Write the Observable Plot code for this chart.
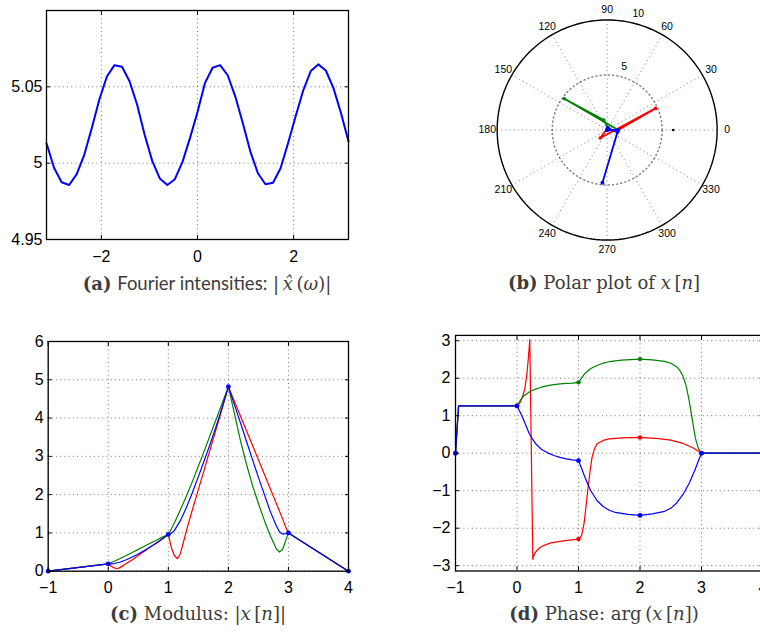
<!DOCTYPE html>
<html><head><meta charset="utf-8">
<script src="https://cdn.jsdelivr.net/npm/d3@7"></script>
<script src="https://cdn.jsdelivr.net/npm/@observablehq/plot@0.6"></script>
<style>
html,body{margin:0;padding:0;background:#fff;}
body{width:760px;height:635px;position:relative;overflow:hidden;}
.panel{position:absolute;}
.panel svg{overflow:visible;max-width:none !important;}
.cap{position:absolute;transform:translate(-50%,-50%);white-space:nowrap;color:#3c3c3c;font-family:"DejaVu Serif","Liberation Serif",serif;font-size:18px;}
.cap b{font-weight:bold;}
.cap i{font-style:italic;}
.sans{font-family:Lato,"Open Sans",sans-serif;font-size:18.5px;}
</style></head><body>
<div id="pa" class="panel" style="left:0;top:0;width:360px"></div>
<div id="pb" class="panel" style="left:440px;top:0;width:320px"></div>
<div id="pc" class="panel" style="left:0;top:320px;width:360px"></div>
<div id="pd" class="panel" style="left:400px;top:320px;width:370px"></div>
<div class="cap" style="left:207px;top:283px"><b>(a)</b> <span class="sans">Fourier intensities:</span> |&thinsp;<i>x&#770;</i>&thinsp;(<i>ω</i>)|</div>
<div class="cap" style="left:604px;top:282px"><b>(b)</b> Polar plot of <i>x</i>&thinsp;[<i>n</i>]</div>
<div class="cap" style="left:198px;top:613px"><b>(c)</b> Modulus: |<i>x</i>&thinsp;[<i>n</i>]|</div>
<div class="cap" style="left:604px;top:613px"><b>(d)</b> Phase: arg&thinsp;(<i>x</i>&thinsp;[<i>n</i>])</div>
<script>
// ---------- (a) Fourier intensities ----------
const omega = [-3.142,-2.985,-2.827,-2.670,-2.513,-2.356,-2.199,-2.042,-1.885,-1.728,-1.571,-1.414,-1.257,-1.100,-0.942,-0.785,-0.628,-0.471,-0.314,-0.157,0,0.157,0.314,0.471,0.628,0.785,0.942,1.100,1.257,1.414,1.571,1.728,1.885,2.042,2.199,2.356,2.513,2.670,2.827,2.985,3.142];
const fourierMag = [5.013,4.997,4.9875,4.9857,4.9928,5.0055,5.023,5.0417,5.0568,5.0642,5.0632,5.0537,5.0384,5.0186,5.0015,4.990,4.9857,4.9895,5.0007,5.0164,5.0335,5.0526,5.0625,5.0642,5.0576,5.0438,5.0263,5.0076,4.9934,4.9862,4.9872,4.9967,5.0132,5.0307,5.0476,5.0603,5.0647,5.0607,5.0493,5.0329,5.0142];
const aXTicks = [-2, 0, 2];
const aYTicks = [4.95, 5, 5.05];

// ---------- samples x[n] ----------
const nIdx = [-1, 0, 1, 2, 3, 4];
const modulus = [0, 0.19, 0.96, 4.82, 1.0, 0];
const phaseRed = [0, 1.26, -2.29, 0.42, 0, 0];
const phaseGreen = [0, 1.26, 1.89, 2.51, 0, 0];
const phaseBlue = [0, 1.26, -0.2, -1.66, 0, 0];

// ---------- (b) polar ----------
const polarAngles = [0,30,60,90,120,150,180,210,240,270,300,330];
const polarRings = [5, 10];
const polarMarker = [{r: 6, p: 0}];

// ---------- (c) modulus curves ----------
const cRedX = [-1,0,0.05,0.1,0.15,0.2,0.3,0.4,0.5,0.6,0.7,0.8,0.9,1,1.05,1.1,1.15,1.2,1.25,1.3,1.4,1.5,1.6,1.7,1.8,1.9,2,2.5,2.9,2.95,3,4];
const cRedY = [0,0.19,0.13,0.085,0.065,0.1,0.2,0.3,0.41,0.52,0.63,0.74,0.85,0.96,0.62,0.41,0.33,0.45,0.75,1.05,1.6,2.13,2.66,3.2,3.73,4.27,4.82,2.91,1.38,1.17,1.0,0];
const cGreenX = [-1,0,0.1,0.2,0.3,0.4,0.5,0.6,0.7,0.8,0.9,1,1.05,1.1,1.2,1.3,1.4,1.5,1.6,1.7,1.8,1.9,2,2.1,2.2,2.3,2.4,2.5,2.6,2.7,2.8,2.85,2.9,2.95,3,4];
const cGreenY = [0,0.19,0.26,0.33,0.41,0.49,0.57,0.65,0.73,0.81,0.89,0.96,1.1,1.26,1.6,1.96,2.34,2.74,3.15,3.57,3.98,4.4,4.82,4.12,3.42,2.8,2.25,1.77,1.32,0.92,0.58,0.5,0.56,0.78,1.0,0];
const cBlueX = [-1,0,0.1,0.2,0.3,0.4,0.5,0.6,0.7,0.8,0.9,1,1.05,1.1,1.2,1.3,1.4,1.5,1.6,1.7,1.8,1.9,2,2.1,2.2,2.3,2.4,2.5,2.6,2.7,2.8,2.85,2.9,2.95,3,4];
const cBlueY = [0,0.19,0.2,0.24,0.3,0.37,0.45,0.54,0.63,0.73,0.84,0.96,0.99,1.06,1.32,1.66,2.05,2.47,2.9,3.34,3.8,4.3,4.82,4.35,3.88,3.4,2.92,2.45,2.0,1.55,1.18,1.03,0.97,0.98,1.0,0];
const cXTicks = [-1,0,1,2,3,4];
const cYTicks = [0,1,2,3,4,5,6];

// ---------- (d) phase curves ----------
const dRedX = [-1,-0.95,0,0.05,0.1,0.13,0.16,0.18,0.2,0.208,0.257,0.28,0.32,0.38,0.45,0.55,0.7,0.85,1,1.05,1.09,1.12,1.15,1.19,1.22,1.26,1.3,1.4,1.5,1.7,2,2.3,2.5,2.7,2.85,2.95,3,4];
const dRedY = [0,1.26,1.26,1.35,1.55,1.75,2.1,2.45,2.85,3.03,-2.83,-2.7,-2.6,-2.51,-2.45,-2.39,-2.35,-2.32,-2.29,-2.2,-1.88,-1.45,-1.0,-0.45,-0.11,0.12,0.25,0.34,0.38,0.41,0.42,0.39,0.35,0.26,0.15,0.05,0,0];
const dGreenX = [-1,-0.95,0,0.05,0.1,0.2,0.3,0.4,0.5,0.6,0.7,0.8,0.9,1,1.05,1.1,1.2,1.3,1.4,1.5,1.7,2,2.2,2.4,2.5,2.6,2.65,2.7,2.75,2.8,2.85,2.9,2.95,3,4];
const dGreenY = [0,1.26,1.26,1.4,1.51,1.63,1.71,1.76,1.8,1.83,1.85,1.86,1.87,1.89,2.0,2.12,2.26,2.34,2.4,2.44,2.48,2.51,2.49,2.45,2.4,2.3,2.2,2.05,1.8,1.4,0.9,0.4,0.12,0,0];
const dBlueX = [-1,-0.95,0,0.05,0.1,0.15,0.2,0.25,0.3,0.4,0.5,0.6,0.7,0.8,0.9,1,1.05,1.1,1.15,1.2,1.3,1.4,1.5,1.6,1.8,2,2.2,2.4,2.5,2.6,2.7,2.8,2.9,2.95,3,4];
const dBlueY = [0,1.26,1.26,1.1,0.92,0.72,0.52,0.38,0.26,0.1,0.01,-0.06,-0.11,-0.15,-0.18,-0.2,-0.4,-0.62,-0.82,-1.0,-1.26,-1.42,-1.52,-1.58,-1.63,-1.66,-1.62,-1.55,-1.47,-1.32,-1.1,-0.8,-0.42,-0.2,0,0];
const dXTicks = [-1,0,1,2,3,4];
const dYTicks = [-3,-2,-1,0,1,2,3];

const RED = "#ff0000", GREEN = "#008000", BLUE = "#0000ff";
const TICKFONT = "'Liberation Sans', Arial, Helvetica, sans-serif";
const zip = (xs, ys) => xs.map((x, i) => ({x, y: ys[i]}));
const fmt = d3.format("~g");

function grid(xt, yt) {
  const g = {stroke: "#000", strokeOpacity: 0.55, strokeDasharray: "1,3.2", strokeWidth: 1};
  return [Plot.gridX(xt, g), Plot.gridY(yt, g)];
}
function boxAxes(xt, yt, padX, padY) {
  return [
    Plot.axisX(xt, {anchor: "bottom", tickSize: 0, tickPadding: padX, tickFormat: fmt, label: null}),
    Plot.axisY(yt, {anchor: "left", tickSize: 0, tickPadding: padY, tickFormat: fmt, label: null}),
    Plot.axisX(xt, {anchor: "bottom", tickSize: 4, dy: -4, tickFormat: () => "", label: null}),
    Plot.axisX(xt, {anchor: "top", tickSize: 4, dy: 4, tickFormat: () => "", label: null}),
    Plot.axisY(yt, {anchor: "left", tickSize: 4, dx: 4, tickFormat: () => "", label: null}),
    Plot.axisY(yt, {anchor: "right", tickSize: 4, dx: -4, tickFormat: () => "", label: null})
  ];
}
const baseStyle = {fontFamily: TICKFONT, fontSize: "16px", color: "#000", background: "transparent", overflow: "visible", maxWidth: "none"};

// (a)
document.getElementById("pa").append(Plot.plot({
  width: 360, height: 270,
  marginLeft: 46, marginRight: 12, marginTop: 10, marginBottom: 31,
  x: {domain: [-Math.PI, Math.PI], label: null},
  y: {domain: [4.95, 5.1], label: null},
  style: baseStyle,
  marks: [
    ...grid(aXTicks, aYTicks),
    Plot.line(zip(omega, fourierMag), {x: "x", y: "y", stroke: BLUE, strokeWidth: 2}),
    Plot.frame({stroke: "#000", strokeWidth: 1.3}),
    ...boxAxes(aXTicks, aYTicks, 11.5, 4)
  ]
}));

// (b) polar
const polarPts = (phases) => nIdx.map((n, i) => ({r: modulus[i], p: phases[i]}));
const px = d => d.r * Math.cos(d.p), py = d => d.r * Math.sin(d.p);
const ringPts = (r) => d3.range(0, 361, 2).map(a => ({r, p: a * Math.PI / 180}));
const labR = 10.9;
document.getElementById("pb").append(Plot.plot({
  width: 320, height: 260, margin: 0,
  x: {domain: [-15.15, 13.94], axis: null},
  y: {domain: [-11.86, 11.77], axis: null},
  style: {...baseStyle, fontSize: "10.5px"},
  marks: [
    Plot.link(polarAngles, {x1: 0, y1: 0, x2: a => 10 * Math.cos(a * Math.PI / 180), y2: a => 10 * Math.sin(a * Math.PI / 180), stroke: "#000", strokeOpacity: 0.5, strokeDasharray: "1,3.2"}),
    Plot.line(ringPts(polarRings[0]), {x: px, y: py, stroke: "#000", strokeOpacity: 0.5, strokeDasharray: "1,3.2"}),
    Plot.line(ringPts(polarRings[1]), {x: px, y: py, stroke: "#000", strokeWidth: 1.4}),
    Plot.dot(polarMarker, {x: px, y: py, r: 1.3, fill: "#000"}),
    Plot.line(polarPts(phaseRed), {x: px, y: py, stroke: RED, strokeWidth: 1.8}),
    Plot.dot(polarPts(phaseRed), {x: px, y: py, r: 1.8, fill: RED}),
    Plot.line(polarPts(phaseGreen), {x: px, y: py, stroke: GREEN, strokeWidth: 1.8}),
    Plot.dot(polarPts(phaseGreen), {x: px, y: py, r: 1.8, fill: GREEN}),
    Plot.line(polarPts(phaseBlue), {x: px, y: py, stroke: BLUE, strokeWidth: 1.8}),
    Plot.dot(polarPts(phaseBlue), {x: px, y: py, r: 2, fill: BLUE}),
    Plot.text(polarAngles, {x: a => labR * Math.cos(a * Math.PI / 180), y: a => labR * Math.sin(a * Math.PI / 180), text: a => String(a), fill: "#000"}),
    Plot.text(polarRings, {x: r => (r + 0.95) * Math.cos(75 * Math.PI / 180), y: r => (r + 0.95) * Math.sin(75 * Math.PI / 180), text: r => String(r), fill: "#000"})
  ]
}));

// (c) modulus
const samplesC = nIdx.map((n, i) => ({x: n, y: modulus[i]}));
document.getElementById("pc").append(Plot.plot({
  width: 360, height: 280,
  marginLeft: 47.7, marginRight: 12, marginTop: 21, marginBottom: 29.3,
  x: {domain: [-1, 4], label: null},
  y: {domain: [0, 6], label: null},
  style: baseStyle,
  marks: [
    ...grid(cXTicks, cYTicks),
    Plot.line(zip(cRedX, cRedY), {x: "x", y: "y", stroke: RED, strokeWidth: 1.2}),
    Plot.line(zip(cGreenX, cGreenY), {x: "x", y: "y", stroke: GREEN, strokeWidth: 1.2}),
    Plot.line(zip(cBlueX, cBlueY), {x: "x", y: "y", stroke: BLUE, strokeWidth: 1.2}),
    Plot.dot(samplesC, {x: "x", y: "y", r: 2.4, fill: BLUE}),
    Plot.frame({stroke: "#000", strokeWidth: 1.3}),
    ...boxAxes(cXTicks, cYTicks, 10, 4.5)
  ]
}));

// (d) phase
const sampD = (ph) => nIdx.map((n, i) => ({x: n, y: ph[i]}));
document.getElementById("pd").append(Plot.plot({
  width: 370, height: 280,
  marginLeft: 55, marginRight: 7.5, marginTop: 14.9, marginBottom: 29.5,
  x: {domain: [-1, 4], label: null},
  y: {domain: [-Math.PI, Math.PI], label: null},
  style: baseStyle,
  marks: [
    ...grid(dXTicks, dYTicks),
    Plot.line(zip(dRedX, dRedY), {x: "x", y: "y", stroke: RED, strokeWidth: 1.2}),
    Plot.line(zip(dGreenX, dGreenY), {x: "x", y: "y", stroke: GREEN, strokeWidth: 1.2}),
    Plot.line(zip(dBlueX, dBlueY), {x: "x", y: "y", stroke: BLUE, strokeWidth: 1.2}),
    Plot.dot(sampD(phaseRed), {x: "x", y: "y", r: 2.2, fill: RED}),
    Plot.dot(sampD(phaseGreen), {x: "x", y: "y", r: 2.2, fill: GREEN}),
    Plot.dot(sampD(phaseBlue), {x: "x", y: "y", r: 2.4, fill: BLUE}),
    Plot.frame({stroke: "#000", strokeWidth: 1.3}),
    ...boxAxes(dXTicks, dYTicks, 10.5, 5)
  ]
}));
</script>
</body></html>
